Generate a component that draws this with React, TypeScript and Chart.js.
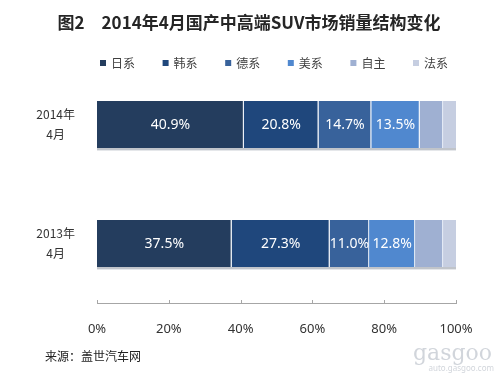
import React, { useEffect, useRef } from "react";
import { Chart, registerables } from "chart.js";

Chart.register(...registerables);

const titleText = "图2\u30002014年4月国产中高端SUV市场销量结构变化";
const categories = [["2014年", "4月"], ["2013年", "4月"]];
const seriesNames = ["日系", "韩系", "德系", "美系", "自主", "法系"];
const japan = [40.9, 37.5];
const korea = [20.8, 27.3];
const germany = [14.7, 11.0];
const usa = [13.5, 12.8];
const domestic = [6.5, 7.8];
const france = [3.6, 3.6];
const showLabel = [true, true, true, true, false, false];
const xTickValues = [0, 20, 40, 60, 80, 100];
const sourceText = "来源：盖世汽车网";

const colors = ["#243d5e", "#1f477c", "#38629b", "#5088cf", "#9fb0d2", "#c6cee1"];
const CJK = "'Noto Sans CJK SC', 'Noto Sans', sans-serif";
const NUM = "'Noto Sans', 'DejaVu Sans', sans-serif";

const decoPlugin = {
  id: "deco",
  beforeDatasetsDraw(chart: any) {
    const ctx = chart.ctx;
    const { left, right } = chart.chartArea;
    const meta = chart.getDatasetMeta(0);
    ctx.save();
    meta.data.forEach((bar: any) => {
      const p = bar.getProps(["y", "height"], true);
      const bottom = p.y + p.height / 2;
      ctx.fillStyle = "rgba(150,156,166,0.6)";
      ctx.fillRect(left, bottom, right - left, 2);
      ctx.fillStyle = "rgba(190,195,202,0.4)";
      ctx.fillRect(left, bottom + 2, right - left, 1);
    });
    ctx.restore();
  },
  afterDatasetsDraw(chart: any) {
    const ctx = chart.ctx;
    ctx.save();
    ctx.font = `14px ${NUM}`;
    ctx.fillStyle = "#ffffff";
    ctx.textAlign = "center";
    ctx.textBaseline = "middle";
    chart.data.datasets.forEach((ds: any, i: number) => {
      if (!showLabel[i]) return;
      const meta = chart.getDatasetMeta(i);
      meta.data.forEach((bar: any, j: number) => {
        const p = bar.getProps(["x", "y", "base"], true);
        const cx = (p.x + p.base) / 2;
        ctx.fillText(Number(ds.data[j]).toFixed(1) + "%", cx, p.y + 1);
      });
    });
    ctx.restore();
  },
  afterDraw(chart: any) {
    const ctx = chart.ctx;
    const xs = chart.scales.x;
    const { bottom } = chart.chartArea;
    ctx.save();
    ctx.strokeStyle = "#a6a6a6";
    ctx.lineWidth = 1;
    xs.ticks.forEach((t: any) => {
      const px = Math.round(xs.getPixelForValue(t.value)) + 0.5;
      ctx.beginPath();
      ctx.moveTo(px, bottom - 3);
      ctx.lineTo(px, bottom);
      ctx.stroke();
    });
    ctx.font = `bold 17px ${CJK}`;
    ctx.fillStyle = "#262626";
    ctx.textAlign = "center";
    ctx.textBaseline = "middle";
    ctx.fillText(titleText, 249, 23);
    ctx.font = `12px ${CJK}`;
    ctx.textAlign = "left";
    seriesNames.forEach((name, i) => {
      const x = 100 + i * 62.6;
      ctx.fillStyle = colors[i];
      ctx.fillRect(x, 60, 6, 6);
      ctx.fillStyle = "#404040";
      ctx.fillText(name, x + 11, 63);
    });
    ctx.font = `12px ${CJK}`;
    ctx.fillStyle = "#222222";
    ctx.fillText(sourceText, 45, 356);
    ctx.textAlign = "right";
    ctx.fillStyle = "rgba(185,190,200,0.65)";
    ctx.font = `22px 'DejaVu Serif', serif`;
    ctx.fillText("gasgoo", 492, 354);
    ctx.font = `8px ${NUM}`;
    ctx.fillText("auto.gasgoo.com", 494, 369);
    ctx.restore();
  },
};

export default function App() {
  const ref = useRef<HTMLCanvasElement | null>(null);
  useEffect(() => {
    document.body.style.margin = "0";
    const series = [japan, korea, germany, usa, domestic, france];
    const chart = new Chart(ref.current as HTMLCanvasElement, {
      type: "bar",
      data: {
        labels: categories as any,
        datasets: series.map((d, i) => ({
          label: seriesNames[i],
          data: d,
          backgroundColor: colors[i],
          borderColor: "#e6edf7",
          borderWidth: { top: 0, bottom: 0, left: 0, right: i < series.length - 1 ? 1 : 0 } as any,
          borderSkipped: false as any,
          barPercentage: 0.395,
          categoryPercentage: 1,
        })),
      },
      options: {
        indexAxis: "y",
        animation: false,
        responsive: true,
        maintainAspectRatio: false,
        layout: { padding: { top: 65, right: 44, left: 0, bottom: 0 } },
        plugins: {
          legend: { display: false },
          title: { display: false },
          tooltip: { enabled: false },
        },
        scales: {
          x: {
            type: "linear",
            stacked: true,
            min: 0,
            max: 100,
            afterBuildTicks(scale: any) {
              scale.ticks = xTickValues.map((v) => ({ value: v }));
            },
            afterFit(scale: any) {
              scale.height = 72;
            },
            grid: { display: false },
            border: { display: true, color: "#a6a6a6", width: 1 },
            ticks: {
              callback: (v: any) => v + "%",
              font: { size: 13, family: NUM },
              color: "#333333",
              padding: 10,
              maxRotation: 0,
            },
          },
          y: {
            type: "category",
            stacked: true,
            afterFit(scale: any) {
              scale.width = 97;
            },
            grid: { display: false },
            border: { display: false },
            ticks: {
              font: { size: 12, family: CJK, lineHeight: 1.65 },
              color: "#333333",
              padding: 14,
              crossAlign: "center",
            },
          },
        },
      } as any,
      plugins: [decoPlugin],
    });
    return () => chart.destroy();
  }, []);
  return (
    <div style={{ position: "relative", width: 500, height: 375, background: "#fff" }}>
      <canvas ref={ref} />
    </div>
  );
}
